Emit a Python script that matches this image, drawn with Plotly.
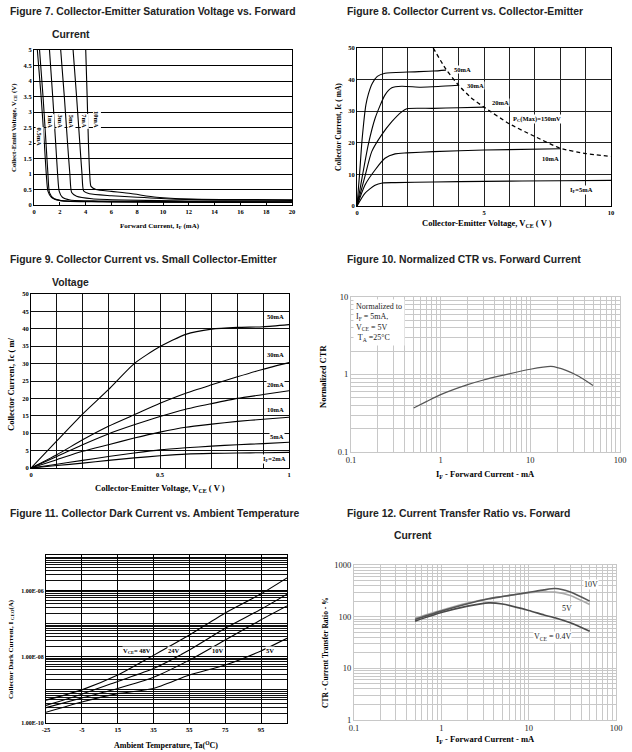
import math
import plotly.graph_objects as go

SERIF = "Liberation Serif"
SANS = "Liberation Sans"
W, H = 632, 752

# ---------------- Figure 7 data ----------------
f7_05_x = [0.26, 0.55, 0.8, 0.95, 1.08, 1.35, 2.0, 5, 12, 20]
f7_05_y = [5, 3.5, 2.0, 1.0, 0.45, 0.25, 0.15, 0.11, 0.09, 0.08]
f7_1_x = [0.43, 0.7, 0.93, 1.08, 1.2, 1.55, 2.2, 6, 12, 20]
f7_1_y = [5, 3.5, 2.0, 1.0, 0.4, 0.2, 0.13, 0.1, 0.09, 0.08]
f7_3_x = [1.2, 1.45, 1.68, 1.83, 1.95, 2.2, 2.8, 5, 12, 20]
f7_3_y = [5, 3.5, 2.0, 1.0, 0.45, 0.25, 0.16, 0.13, 0.11, 0.1]
f7_5_x = [2.07, 2.35, 2.6, 2.78, 2.92, 3.3, 4.5, 7, 12, 20]
f7_5_y = [5, 3.5, 2.0, 1.0, 0.4, 0.28, 0.2, 0.16, 0.13, 0.12]
f7_7_x = [3.03, 3.3, 3.55, 3.72, 3.85, 4.3, 6, 8, 11, 20]
f7_7_y = [5, 3.5, 2.0, 1.0, 0.45, 0.36, 0.3, 0.25, 0.19, 0.15]
f7_10_x = [4.01, 4.12, 4.22, 4.32, 4.42, 4.8, 6, 7.5, 9.5, 12, 20]
f7_10_y = [5, 3.5, 2.0, 1.0, 0.6, 0.5, 0.44, 0.37, 0.25, 0.19, 0.17]
f7_labels = ["0.5mA", "1mA", "3mA", "5mA", "7mA", "10mA"]
f7_label_x = [0.41, 1.29, 2.07, 2.92, 3.95, 4.86]
f7_label_y = [2.2, 2.7, 2.7, 2.7, 2.7, 2.75]

# ---------------- Figure 8 data ----------------
f8_5_x = [0, 0.31, 0.71, 1.0, 1.5, 3, 5, 8, 10]
f8_5_y = [0, 4.0, 6.6, 7.3, 7.4, 7.6, 7.8, 8.0, 8.1]
f8_10_x = [0, 0.31, 0.71, 1.1, 1.5, 1.96, 3, 5, 8]
f8_10_y = [0, 6.6, 11.4, 15.1, 16.5, 16.8, 17.2, 17.7, 18.1]
f8_20_x = [0, 0.3, 0.58, 0.97, 1.37, 1.76, 1.96, 3, 4, 5]
f8_20_y = [0, 9, 17.2, 22.5, 26.7, 29.8, 30.8, 30.9, 31.1, 31.3]
f8_30_x = [0, 0.2, 0.44, 0.71, 1.1, 1.37, 1.76, 2.5, 3.2, 4]
f8_30_y = [0, 9, 19.3, 27.7, 35.1, 37.4, 37.9, 37.6, 37.8, 38.2]
f8_50_x = [0, 0.1, 0.2, 0.35, 0.45, 0.6, 0.8, 1.1, 2, 3, 3.5]
f8_50_y = [0, 10, 21, 32, 35.5, 38.8, 41, 42, 42.4, 42.7, 43]
f8_pc_x = [3.0, 3.5, 4.0, 4.5, 5.0, 6.0, 7.0, 8.0, 9.0, 10.0]
f8_pc_y = [50, 43.3, 38.2, 34.2, 31.3, 26, 22, 18.3, 16.6, 15.7]
f8_labels = ["50mA", "30mA", "20mA", "P<sub>C</sub>(Max)=150mV", "10mA", "I<sub>F</sub>=5mA"]
f8_label_x = [4.17, 4.68, 5.64, 7.08, 7.6, 8.85]
f8_label_y = [43.1, 38.1, 32.7, 27.6, 14.9, 5.2]

# ---------------- Figure 9 data ----------------
f9_x = [0, 0.1, 0.2, 0.3, 0.4, 0.5, 0.6, 0.7, 0.8, 0.9, 1.0]
f9_50 = [0, 7.8, 15.5, 22.5, 30, 34.9, 38.4, 39.9, 40.4, 40.6, 41.2]
f9_30 = [0, 3.8, 8.1, 12, 15.3, 18.6, 21.5, 23.9, 26.2, 28.4, 30.3]
f9_20 = [0, 3.3, 6.7, 9.8, 12.4, 14.8, 16.9, 18.5, 20, 21.1, 22.2]
f9_10 = [0, 2.4, 4.8, 6.7, 8.6, 10.3, 11.7, 12.6, 13.4, 14, 14.6]
f9_5 = [0, 1.1, 2.2, 3.3, 4.3, 5.2, 5.8, 6.3, 6.7, 7.0, 7.4]
f9_2 = [0, 0.7, 1.4, 2.2, 2.9, 3.5, 4.0, 4.2, 4.3, 4.4, 4.5]
f9_labels = ["50mA", "30mA", "20mA", "10mA", "5mA", "I<sub>F</sub>=2mA"]
f9_label_x = [0.948, 0.948, 0.948, 0.948, 0.953, 0.943]
f9_label_y = [43.5, 32.7, 23.9, 16.7, 9.1, 2.6]

# ---------------- Figure 10 data ----------------
f10_x = [0.5, 0.7, 1, 2, 3, 5, 10, 17, 25, 35, 50]
f10_y = [0.37, 0.45, 0.55, 0.74, 0.85, 0.98, 1.17, 1.27, 1.13, 0.94, 0.72]

# ---------------- Figure 11 data ----------------
f11_x = [-25, -5, 15, 35, 55, 75, 95, 109.5]
f11_48 = [4.9e-10, 1.0e-9, 2.8e-9, 1.1e-8, 4.5e-8, 2.1e-7, 7.9e-7, 2.4e-6]
f11_24 = [3.4e-10, 7.4e-10, 1.8e-9, 4.4e-9, 1.6e-8, 7.2e-8, 2.7e-7, 7.7e-7]
f11_10 = [2.9e-10, 5.7e-10, 1.1e-9, 2.4e-9, 7.9e-9, 3.2e-8, 1.3e-7, 3.4e-7]
f11_5 = [2.1e-10, 4.3e-10, 7.7e-10, 1.1e-9, 2.8e-9, 5.6e-9, 1.5e-8, 3.6e-8]
f11_labels = ["V<sub>CE</sub>= 48V", "24V", "10V", "5V"]
f11_label_x = [25.8, 46.6, 70.8, 100.2]
f11_label_y = [1.5e-8, 1.5e-8, 1.5e-8, 1.5e-8]
f11_ticks = [1e-10, 1e-8, 1e-6]
f11_ticktext = ["1.00E-10", "1.00E-08", "1.00E-06"]
f11_xticks = [-25, -5, 15, 35, 55, 75, 95]
f11_xticktext = ["-25", "-5", "15", "35", "55", "75", "95"]

# ---------------- Figure 12 data ----------------
f12_x = [0.5, 1, 2, 3.5, 5, 10, 15, 20, 30, 50]
f12_10v = [88, 128, 178, 222, 245, 295, 330, 350, 300, 200]
f12_5v = [93, 133, 183, 225, 246, 290, 300, 298, 258, 172]
f12_04v = [82, 120, 160, 185, 176, 132, 108, 95, 76, 52]
f12_labels = ["10V", "5V", "V<sub>CE</sub> = 0.4V"]
f12_label_x = [52, 27.4, 18.9]
f12_label_y = [423, 145, 40]

# ---------------- layout helpers ----------------
DOM = {
    1: ((34, 292), (50, 205)),
    2: ((357, 611), (48, 206)),
    3: ((31, 289), (294, 468)),
    4: ((351, 620), (297, 452)),
    5: ((46, 287), (555, 723)),
    6: ((354, 616), (565, 720)),
}


def xd(i):
    a, b = DOM[i][0]
    return [a / W, b / W]


def yd(i):
    a, b = DOM[i][1]
    return [1 - b / H, 1 - a / H]


fig = go.Figure()


def add_line(i, x, y, color="black", width=1.2, dash="solid"):
    fig.add_trace(go.Scatter(x=x, y=y, mode="lines", xaxis="x%d" % i, yaxis="y%d" % i,
                             line=dict(color=color, width=width, dash=dash, shape="spline", smoothing=0.6),
                             showlegend=False, hoverinfo="skip"))


for xs, ys in [(f7_05_x, f7_05_y), (f7_1_x, f7_1_y), (f7_3_x, f7_3_y), (f7_5_x, f7_5_y),
               (f7_7_x, f7_7_y), (f7_10_x, f7_10_y)]:
    add_line(1, xs, ys, width=1.1)
for xs, ys in [(f8_5_x, f8_5_y), (f8_10_x, f8_10_y), (f8_20_x, f8_20_y), (f8_30_x, f8_30_y), (f8_50_x, f8_50_y)]:
    add_line(2, xs, ys, width=1.1)
add_line(2, f8_pc_x, f8_pc_y, width=1.3, dash="4px,3px")
for ys in [f9_50, f9_30, f9_20, f9_10, f9_5, f9_2]:
    add_line(3, f9_x, ys, width=1.1)
add_line(4, f10_x, f10_y, color="#555555", width=1.2)
for ys in [f11_48, f11_24, f11_10, f11_5]:
    add_line(5, f11_x, ys, width=1.1)
add_line(6, f12_x, f12_04v, color="#4a4a4a", width=1.6)
add_line(6, f12_x, f12_5v, color="#a8a8a8", width=1.6)
add_line(6, f12_x, f12_10v, color="#555555", width=1.6)

bold_tick = dict(family=SERIF, size=6.5, color="black", weight="bold")
reg_tick = dict(family=SERIF, size=8.5, color="#222222")


def lin_axis(i, rng, dtick, showgrid, gridcolor="black", tickvals=None, ticktext=None, ticks=""):
    d = dict(domain=xd(i), range=rng, showgrid=showgrid, gridcolor=gridcolor, gridwidth=1,
             zeroline=False, showline=True, linecolor="black", linewidth=1, mirror=True,
             tickfont=bold_tick, ticks=ticks, ticklen=3, tickcolor="black", anchor="y%d" % i,
             automargin=False)
    if tickvals is not None:
        d.update(tickmode="array", tickvals=tickvals, ticktext=ticktext)
    else:
        d.update(dtick=dtick, tick0=rng[0])
    return d


def log_minor(lo, hi):
    vals = []
    for n in range(lo, hi):
        for k in range(1, 10):
            vals.append(k * 10.0 ** n)
    return vals


layout = dict(width=W, height=H, margin=dict(l=0, r=0, t=0, b=0, pad=0, autoexpand=False),
              template="none", paper_bgcolor="white", plot_bgcolor="white", showlegend=False)

ax = lin_axis(1, [0, 20], 2, False, ticks="inside")
layout["xaxis"] = ax
ay = lin_axis(1, [0, 5], 0.5, True)
ay.update(domain=yd(1), anchor="x")
layout["yaxis"] = ay

ax = lin_axis(2, [0, 10], 1, True, gridcolor="#222222",
              tickvals=list(range(11)), ticktext=["0", "", "", "", "", "5", "", "", "", "", "10"])
layout["xaxis2"] = ax
ay = lin_axis(2, [0, 50], 10, True, gridcolor="#222222")
ay.update(domain=yd(2), anchor="x2")
layout["yaxis2"] = ay

ax = lin_axis(3, [0, 1], 0.1, True, gridcolor="#111111",
              tickvals=[round(0.1 * k, 1) for k in range(11)],
              ticktext=["0", "", "", "", "", "0.5", "", "", "", "", "1"])
layout["xaxis3"] = ax
ay = lin_axis(3, [0, 50], 5, True, gridcolor="#111111")
ay.update(domain=yd(3), anchor="x3")
layout["yaxis3"] = ay

lg = "#c8c8c8"


def log_axis(dom, rng, anchor, tv, tt, lo, hi):
    return dict(domain=dom, type="log", range=rng, anchor=anchor, automargin=False,
                tickmode="array", tickvals=tv, ticktext=tt,
                showgrid=True, gridcolor=lg, gridwidth=1, showline=True, linecolor=lg, mirror=True,
                zeroline=False, tickfont=reg_tick, ticks="",
                minor=dict(tickvals=log_minor(lo, hi), showgrid=True, gridcolor=lg, gridwidth=0.8, ticks=""))


layout["xaxis4"] = log_axis(xd(4), [-1, 2], "y4", [0.1, 1, 10, 100], ["0.1", "1", "10", "100"], -1, 2)
layout["yaxis4"] = log_axis(yd(4), [-1, 1], "x4", [0.1, 1, 10], ["0.1", "1", "10"], -1, 1)

ax = lin_axis(5, [-25, 109.5], 20, True, gridcolor="black",
              tickvals=f11_xticks, ticktext=f11_xticktext)
ax.update(gridwidth=1.3)
layout["xaxis5"] = ax
layout["yaxis5"] = dict(domain=yd(5), type="log", range=[-10, -4.93], anchor="x5", automargin=False,
                        tickmode="array", tickvals=f11_ticks, ticktext=f11_ticktext,
                        showgrid=True, gridcolor="black", gridwidth=1, showline=True, linecolor="black",
                        mirror=True, zeroline=False, tickfont=dict(family=SERIF, size=6, color="black", weight="bold"),
                        ticks="",
                        minor=dict(tickvals=log_minor(-10, -4), showgrid=True, gridcolor="#111111",
                                   gridwidth=0.9, ticks=""))

layout["xaxis6"] = log_axis(xd(6), [-1, 2], "y6", [0.1, 1, 10, 100], ["0.1", "1", "10", "100"], -1, 2)
layout["yaxis6"] = log_axis(yd(6), [0, 3], "x6", [1, 10, 100, 1000], ["1", "10", "100", "1000"], 0, 3)

fig.update_layout(**layout)

ann = []
TF = dict(family=SANS, size=10.4, color="#222222", weight="bold")


def title(text, x, y):
    ann.append(dict(text=text, x=x / W, y=1 - y / H, xref="paper", yref="paper",
                    xanchor="left", yanchor="middle", showarrow=False, font=TF))


title("Figure 7. Collector-Emitter Saturation Voltage vs. Forward", 8, 12)
title("Current", 50, 34)
title("Figure 8. Collector Current vs. Collector-Emitter", 345, 12)
title("Figure 9. Collector Current vs. Small Collector-Emitter", 8, 259)
title("Voltage", 50, 282)
title("Figure 10. Normalized CTR vs. Forward Current", 345, 259)
title("Figure 11. Collector Dark Current vs. Ambient Temperature", 8, 513)
title("Figure 12. Current Transfer Ratio vs. Forward", 345, 513)
title("Current", 392, 535)


def axtitle(text, x, y, size, angle=0, bold=True):
    f = dict(family=SERIF, size=size, color="black")
    if bold:
        f["weight"] = "bold"
    ann.append(dict(text=text, x=x / W, y=1 - y / H, xref="paper", yref="paper",
                    xanchor="center", yanchor="middle", showarrow=False, font=f, textangle=angle))


axtitle("Forward Current, I<sub>F</sub> (mA)", 160, 226, 7)
axtitle("Collect-Emitt Voltage, V<sub>CE</sub> (V)", 14, 128, 6.8, -90)
axtitle("Collector-Emitter Voltage, V<sub>CE</sub> ( V )", 487, 223, 8.5)
axtitle("Collector Current, Ic ( mA)", 338, 127, 7.5, -90)
axtitle("Collector-Emitter Voltage, V<sub>CE</sub> ( V )", 160, 488, 8.5)
axtitle("Collector Current, Ic ( m/", 11, 384, 8.5, -90)
axtitle("I<sub>F</sub> - Forward Current - mA", 485, 474, 8.5)
axtitle("Normalized CTR", 323, 376, 8.5, -90)
axtitle("Ambient Temperature, Ta(<sup>O</sup>C)", 166, 745, 8)
axtitle("Collector Dark Current, I <sub>CEO</sub>(A)", 11, 649, 7, -90)
axtitle("I<sub>F</sub> - Forward Current - mA", 485, 739, 8.5)
axtitle("CTR - Current Transfer Ratio - %", 325, 653, 7.5, -90)

LBL = dict(family=SERIF, size=6.5, color="black", weight="bold")
for t, x, y in zip(f7_labels, f7_label_x, f7_label_y):
    ann.append(dict(text=t, x=x, y=y, xref="x", yref="y", showarrow=False, font=LBL,
                    textangle=90, bgcolor="white", borderpad=0))
for t, x, y in zip(f8_labels, f8_label_x, f8_label_y):
    ann.append(dict(text=t, x=x, y=y, xref="x2", yref="y2", showarrow=False, font=LBL,
                    bgcolor="white", borderpad=0))
for t, x, y in zip(f9_labels, f9_label_x, f9_label_y):
    ann.append(dict(text=t, x=x, y=y, xref="x3", yref="y3", showarrow=False, font=LBL,
                    bgcolor="white", borderpad=0))
for t, x, y in zip(f11_labels, f11_label_x, f11_label_y):
    ann.append(dict(text=t, x=x, y=math.log10(y), xref="x5", yref="y5", showarrow=False,
                    font=dict(family=SERIF, size=6.5, color="black", weight="bold"),
                    bgcolor="white", borderpad=0))
LBL12 = dict(family=SERIF, size=8, color="#222222")
for t, x, y in zip(f12_labels, f12_label_x, f12_label_y):
    ann.append(dict(text=t, x=math.log10(x), y=math.log10(y), xref="x6", yref="y6", showarrow=False,
                    font=LBL12, bgcolor="white", borderpad=0))

ann.append(dict(text="Normalized to<br>I<sub>F</sub> = 5mA,<br>V<sub>CE</sub> = 5V<br> T<sub>A</sub> =25°C",
                x=353 / W, y=1 - 299 / H, xref="paper", yref="paper", xanchor="left", yanchor="top",
                align="left", showarrow=False, bgcolor="white", borderpad=2,
                font=dict(family=SERIF, size=8, color="#222222")))

fig.update_layout(annotations=ann)
fig.write_html("out.html", config={"displayModeBar": False},
               post_script="document.body.style.margin='0';document.body.style.padding='0';")
